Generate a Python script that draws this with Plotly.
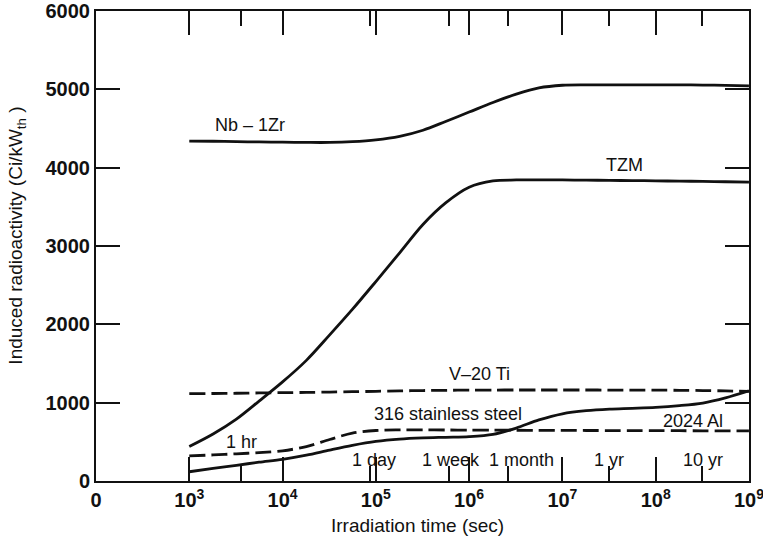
import plotly.graph_objects as go

# Irradiation time grid (sec), shared by all curves
time_s = [1e3, 1.8e3, 3.2e3, 5.6e3, 1e4, 1.8e4, 3.2e4, 5.6e4, 1e5, 1.8e5, 3.2e5, 5.6e5,
          1e6, 1.8e6, 3.2e6, 5.6e6, 1e7, 1.8e7, 3.2e7, 5.6e7, 1e8, 1.8e8, 3.2e8, 5.6e8, 1e9]

# Induced radioactivity (Ci/kW_th)
nb_1zr = [4340, 4337, 4333, 4328, 4325, 4322, 4322, 4332, 4355, 4400, 4478, 4590,
          4710, 4832, 4938, 5018, 5052, 5057, 5058, 5058, 5058, 5057, 5055, 5050, 5045]
tzm = [440, 600, 790, 1020, 1265, 1540, 1865, 2190, 2546, 2913, 3275, 3550,
       3750, 3830, 3843, 3845, 3843, 3841, 3838, 3835, 3832, 3828, 3825, 3820, 3815]
v_20ti = [1115, 1117, 1120, 1124, 1128, 1131, 1135, 1140, 1145, 1150, 1155, 1158,
          1160, 1161, 1162, 1162, 1162, 1162, 1161, 1160, 1160, 1158, 1155, 1150, 1145]
ss_316 = [118, 160, 200, 240, 277, 330, 395, 455, 505, 535, 550, 558,
          566, 595, 676, 780, 858, 898, 918, 928, 940, 962, 995, 1060, 1150]
al_2024 = [320, 333, 347, 362, 385, 440, 530, 612, 645, 652, 652, 651,
           650, 649, 648, 647, 646, 645, 644, 644, 643, 642, 641, 641, 640]

# Axis ticks
x_tickvals = [1e2, 1e3, 1e4, 1e5, 1e6, 1e7, 1e8, 1e9]
x_ticktext = ["0", "10<sup>3</sup>", "10<sup>4</sup>", "10<sup>5</sup>", "10<sup>6</sup>",
              "10<sup>7</sup>", "10<sup>8</sup>", "10<sup>9</sup>"]
time_marks = [3600, 86400, 604800, 2.592e6, 3.156e7, 3.156e8]
time_mark_labels = ["1 hr", "1 day", "1 week", "1 month", "1 yr", "10 yr"]
y_tickvals = [0, 1000, 2000, 3000, 4000, 5000, 6000]

FONT = "Liberation Sans, Arial, Helvetica, sans-serif"
INK = "#111111"

fig = go.Figure()

curves = [
    ("Nb - 1Zr", nb_1zr, "solid"),
    ("TZM", tzm, "solid"),
    ("V-20 Ti", v_20ti, "16px,6px"),
    ("316 stainless steel", ss_316, "solid"),
    ("2024 Al", al_2024, "16px,6px"),
]
for name, vals, dash in curves:
    fig.add_trace(go.Scatter(
        x=time_s, y=vals, name=name, mode="lines",
        line=dict(color=INK, width=2.8, dash=dash, shape="spline", smoothing=0.9),
        showlegend=False,
    ))

# Curve labels: (text, log10 x, y)
curve_labels = [
    ("Nb – 1Zr", 3.651, 4545),
    ("TZM", 7.671, 4034),
    ("V–20 Ti", 6.116, 1372),
    ("316 stainless steel", 5.773, 855),
    ("2024 Al", 8.405, 760),
]
for text, lx, y in curve_labels:
    fig.add_annotation(x=lx, y=y, xref="x", yref="y", text=text, showarrow=False,
                       xanchor="center", yanchor="middle",
                       font=dict(family=FONT, size=18, color=INK))

# Time-scale labels near the bottom axis
time_label_pos = [(3.560, 504), (4.980, 270), (5.806, 270), (6.563, 270), (7.499, 270), (8.507, 270)]
for text, (lx, y) in zip(time_mark_labels, time_label_pos):
    fig.add_annotation(x=lx, y=y, xref="x", yref="y", text=text, showarrow=False,
                       xanchor="center", yanchor="middle",
                       font=dict(family=FONT, size=18, color=INK))

# Axis titles
fig.add_annotation(x=0.493, y=-0.094, xref="paper", yref="paper",
                   text="Irradiation time (sec)", showarrow=False,
                   xanchor="center", yanchor="middle",
                   font=dict(family=FONT, size=19, color=INK))
fig.add_annotation(x=-0.121, y=0.522, xref="paper", yref="paper",
                   text="Induced radioactivity (Ci/kW<sub>th</sub> )", showarrow=False,
                   textangle=-90, xanchor="center", yanchor="middle",
                   font=dict(family=FONT, size=19, color=INK))

fig.update_xaxes(
    type="log", range=[2, 9.0005], automargin=False,
    tickmode="array", tickvals=x_tickvals, ticktext=x_ticktext,
    ticks="inside", ticklen=24, tickwidth=1.5, tickcolor=INK,
    minor=dict(tickmode="array", tickvals=time_marks, ticks="inside",
               ticklen=15, tickwidth=1.5, tickcolor=INK, showgrid=False),
    showline=True, linewidth=2, linecolor=INK, mirror="ticks",
    showgrid=False, zeroline=False, ticklabeloverflow="allow",
    tickfont=dict(family=FONT, size=20, color=INK, weight="bold"),
)
fig.update_yaxes(
    range=[0, 6000], automargin=False,
    tickmode="array", tickvals=y_tickvals,
    ticks="inside", ticklen=24, tickwidth=1.5, tickcolor=INK,
    showline=True, linewidth=2, linecolor=INK, mirror="ticks",
    showgrid=False, zeroline=False,
    tickfont=dict(family=FONT, size=20, color=INK, weight="bold"),
)

fig.update_layout(
    width=763, height=542,
    margin=dict(l=96, r=14, t=11, b=61),
    paper_bgcolor="white", plot_bgcolor="white",
    font=dict(family=FONT, color=INK),
)

fig.write_html("out.html")
